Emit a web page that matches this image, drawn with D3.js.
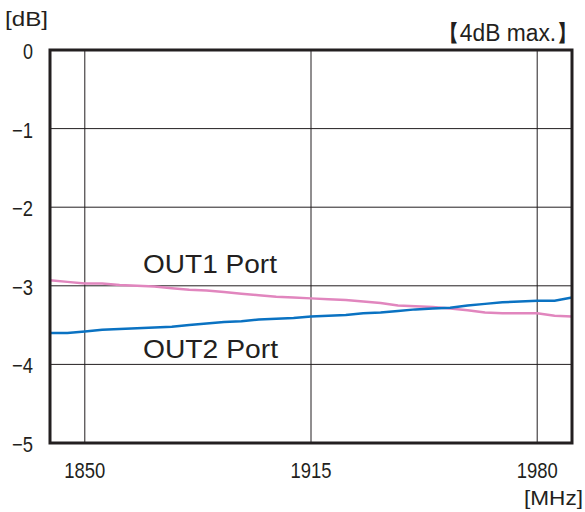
<!DOCTYPE html>
<html><head><meta charset="utf-8">
<script src="https://cdn.jsdelivr.net/npm/d3@7"></script>
<style>body{margin:0;background:#fff}svg{display:block}text{font-family:"Liberation Sans",Arial,sans-serif;fill:#231f20}</style>
</head><body><svg id="c" width="585" height="512"></svg>
<script>
const freqs = [1840,1845,1850,1855,1860,1865,1870,1875,1880,1885,1890,1895,1900,1905,1910,1915,1920,1925,1930,1935,1940,1945,1950,1955,1960,1965,1970,1975,1980,1985,1990];
const out1 = [-2.93,-2.95,-2.97,-2.97,-2.99,-3.00,-3.01,-3.03,-3.05,-3.06,-3.08,-3.10,-3.12,-3.14,-3.15,-3.16,-3.17,-3.18,-3.20,-3.22,-3.25,-3.26,-3.27,-3.29,-3.31,-3.34,-3.35,-3.35,-3.35,-3.38,-3.39];
const out2 = [-3.60,-3.60,-3.58,-3.56,-3.55,-3.54,-3.53,-3.52,-3.50,-3.48,-3.46,-3.45,-3.43,-3.42,-3.41,-3.39,-3.38,-3.37,-3.35,-3.34,-3.32,-3.30,-3.29,-3.28,-3.25,-3.23,-3.21,-3.20,-3.19,-3.19,-3.15];
const xTicks = [1850,1915,1980];
const yTicks = [0,-1,-2,-3,-4,-5];
const seriesNames = ["OUT1 Port","OUT2 Port"];

const svg = d3.select("#c");
const L=50,R=572,T=50,B=443;
const x = d3.scaleLinear().domain([1840,1990]).range([L,R]);
const y = d3.scaleLinear().domain([-5,0]).range([B,T]);

// grid
svg.append("g").selectAll("line").data(xTicks).join("line")
  .attr("x1",d=>x(d)).attr("x2",d=>x(d)).attr("y1",T).attr("y2",B)
  .attr("stroke","#231f20").attr("stroke-width",1);
svg.append("g").selectAll("line").data(yTicks.slice(1,-1)).join("line")
  .attr("x1",L).attr("x2",R).attr("y1",d=>y(d)).attr("y2",d=>y(d))
  .attr("stroke","#231f20").attr("stroke-width",1);

// lines
const line = d3.line().x((d,i)=>x(freqs[i])).y(d=>y(d));
svg.append("path").datum(out1).attr("d",line).attr("fill","none").attr("stroke","#e186be").attr("stroke-width",2.5);
svg.append("path").datum(out2).attr("d",line).attr("fill","none").attr("stroke","#0a72c2").attr("stroke-width",2.5);

// frame
svg.append("rect").attr("x",L).attr("y",T).attr("width",R-L).attr("height",B-T)
  .attr("fill","none").attr("stroke","#231f20").attr("stroke-width",3);

function txt(xp,yp,s,size,len,anchor){
  const t = svg.append("text").attr("x",xp).attr("y",yp).attr("font-size",size)
    .attr("text-anchor",anchor||"start").text(s);
  if(len) t.attr("textLength",len).attr("lengthAdjust","spacingAndGlyphs");
  return t;
}
// axes labels
yTicks.forEach(d=>{
  const s = d===0?"0":"\u2212"+Math.abs(d);
  txt(33,y(d)+9,s,22,d===0?10:21,"end");
});
xTicks.forEach(d=>txt(x(d),478,String(d),22,41,"middle"));

txt(5,26,"[dB]",21,43);
txt(583,505,"[MHz]",21,59,"end");
txt(579,41,"【4dB max.】",23,142,"end");

txt(143,273,seriesNames[0],25,134);
txt(143,358,seriesNames[1],25,135);
</script></body></html>
